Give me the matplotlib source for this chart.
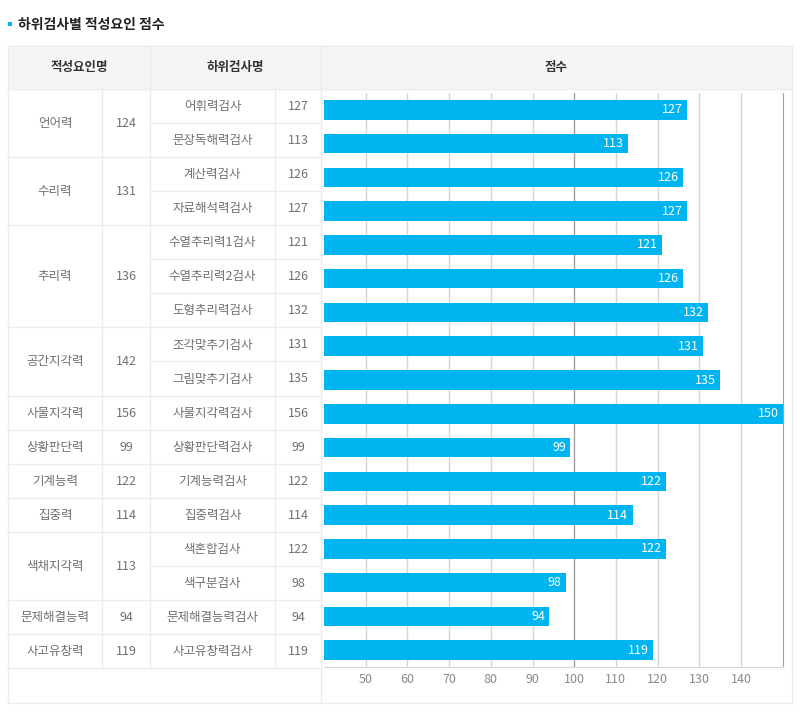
import matplotlib
matplotlib.use('Agg')
import matplotlib.pyplot as plt
import numpy as np
from matplotlib.patches import Rectangle

plt.rcParams['font.family'] = ['Noto Sans CJK KR', 'DejaVu Sans']

# data
groups = ['언어력', '수리력', '추리력', '공간지각력', '사물지각력', '상황판단력',
          '기계능력', '집중력', '색채지각력', '문제해결능력', '사고유창력']
group_scores = [124, 131, 136, 142, 156, 99, 122, 114, 113, 94, 119]
group_sizes = [2, 2, 3, 2, 1, 1, 1, 1, 2, 1, 1]
subtests = ['어휘력검사', '문장독해력검사', '계산력검사', '자료해석력검사',
            '수열추리력1검사', '수열추리력2검사', '도형추리력검사',
            '조각맞추기검사', '그림맞추기검사', '사물지각력검사', '상황판단력검사',
            '기계능력검사', '집중력검사', '색혼합검사', '색구분검사',
            '문제해결능력검사', '사고유창력검사']
sub_scores = [127, 113, 126, 127, 121, 126, 132, 131, 135, 156, 99, 122, 114,
              122, 98, 94, 119]
xticks = [50, 60, 70, 80, 90, 100, 110, 120, 130, 140]
x_min, x_max = 40, 150

W, H = 800, 712
fig = plt.figure(figsize=(8, 7.12), dpi=100)
bg = fig.add_axes([0, 0, 1, 1])
bg.set_xlim(0, W)
bg.set_ylim(H, 0)
bg.axis('off')

line_c = '#ececec'
text_c = '#707070'
blue = '#00b5ef'

# title
bg.add_patch(Rectangle((8, 22), 4, 4, color=blue, lw=0))
bg.text(18, 25, '하위검사별 적성요인 점수', fontsize=10, fontweight='bold',
        color='#222222', va='center', ha='left')

# table frame
top, head_b, rows_b, bottom = 46, 89, 668, 703
left, right = 8, 792
c1, c2, c3, c4 = 102, 150, 275, 321
bg.add_patch(Rectangle((left, top), right - left, head_b - top,
                       facecolor='#f5f5f5', edgecolor='none'))
bg.plot([left, right], [top, top], color=line_c, lw=1)
bg.plot([left, right], [head_b, head_b], color=line_c, lw=1)
bg.plot([left, right], [bottom, bottom], color=line_c, lw=1)
for x in (left, c4, right):
    bg.plot([x, x], [top, bottom], color=line_c, lw=1)
bg.plot([c2, c2], [top, rows_b], color=line_c, lw=1)
for x in (c1, c3):
    bg.plot([x, x], [head_b, rows_b], color=line_c, lw=1)

bg.text((left + c2) / 2, (top + head_b) / 2, '적성요인명', fontsize=9,
        fontweight='bold', color='#333333', ha='center', va='center')
bg.text((c2 + c4) / 2, (top + head_b) / 2, '하위검사명', fontsize=9,
        fontweight='bold', color='#333333', ha='center', va='center')
bg.text((c4 + right) / 2, (top + head_b) / 2, '점수', fontsize=9,
        fontweight='bold', color='#333333', ha='center', va='center')

row_h = (rows_b - head_b) / len(subtests)
for i, (name, s) in enumerate(zip(subtests, sub_scores)):
    yc = head_b + (i + 0.5) * row_h + 0.5
    bg.text((c2 + c3) / 2, yc, name, fontsize=9, color=text_c,
            ha='center', va='center')
    bg.text((c3 + c4) / 2, yc, str(s), fontsize=9, color=text_c,
            ha='center', va='center')
    yb = head_b + (i + 1) * row_h
    bg.plot([c2, c4], [yb, yb], color=line_c, lw=1)

start = 0
for g, gs, n in zip(groups, group_scores, group_sizes):
    y0 = head_b + start * row_h
    y1 = head_b + (start + n) * row_h
    bg.text((left + c1) / 2, (y0 + y1) / 2 + 0.5, g, fontsize=9, color=text_c,
            ha='center', va='center')
    bg.text((c1 + c2) / 2, (y0 + y1) / 2 + 0.5, str(gs), fontsize=9,
            color=text_c, ha='center', va='center')
    bg.plot([left, c2], [y1, y1], color=line_c, lw=1)
    start += n

# bar chart
ax_l, ax_r, ax_t, ax_b = 324, 782.7, 93, 667
ax = fig.add_axes([ax_l / W, (H - ax_b) / H, (ax_r - ax_l) / W, (ax_b - ax_t) / H])
ax.set_facecolor('none')
shown = np.minimum(sub_scores, x_max)
ypos = np.arange(len(subtests))
ax.barh(ypos, shown, height=0.58, color=blue, zorder=3)
for y, v in zip(ypos, shown):
    ax.text(v - 1, y, str(v), color='white', fontsize=9, ha='right',
            va='center', zorder=4)
for t in xticks:
    ax.axvline(t, color='#a0a0a0' if t == 100 else '#d6d6d6', lw=1, zorder=1)
ax.set_xlim(x_min, x_max)
ax.set_ylim(len(subtests) - 0.5, -0.5)
ax.set_xticks(xticks)
ax.set_yticks([])
ax.tick_params(axis='x', length=0, pad=4, labelsize=9, labelcolor='#8a8a8a')
for sp in ('top', 'left'):
    ax.spines[sp].set_visible(False)
ax.spines['right'].set_color('#a0a0a0')
ax.spines['bottom'].set_color('#d6d6d6')

fig.savefig('out.png', dpi=100)
